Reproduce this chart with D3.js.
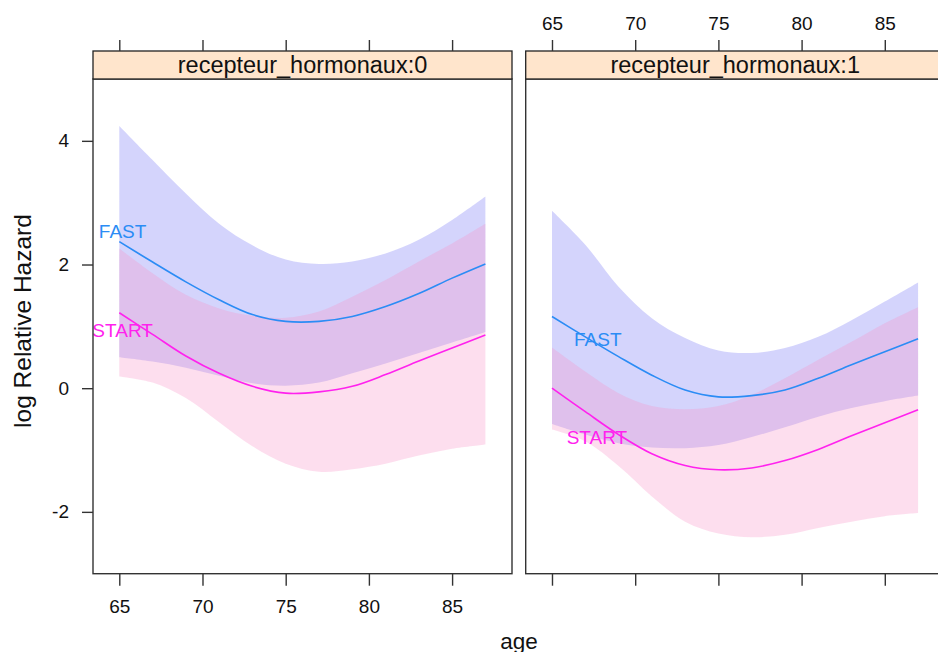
<!DOCTYPE html>
<html>
<head>
<meta charset="utf-8">
<script src="https://cdn.jsdelivr.net/npm/d3@7"></script>
<style>
  body { margin: 0; background: #fff; }
  svg { font-family: "Liberation Sans", Arial, sans-serif; }
</style>
</head>
<body>
<div id="chart"></div>
<script>
const ages = [65, 67, 69, 71, 73, 75, 77, 79, 81, 83, 85, 87];

const panels = ["recepteur_hormonaux:0", "recepteur_hormonaux:1"];
const groups = ["FAST", "START"];

// recepteur_hormonaux:0
const fast0 = [2.37, 2.04, 1.72, 1.43, 1.19, 1.08, 1.08, 1.16, 1.32, 1.53, 1.78, 2.01];
const fast0Lo = [0.50, 0.43, 0.33, 0.20, 0.08, 0.04, 0.09, 0.24, 0.40, 0.57, 0.74, 0.91];
const fast0Hi = [4.24, 3.69, 3.15, 2.66, 2.31, 2.08, 2.01, 2.05, 2.18, 2.40, 2.72, 3.10];
const start0 = [1.22, 0.87, 0.52, 0.24, 0.03, -0.08, -0.06, 0.03, 0.22, 0.44, 0.65, 0.86];
const start0Lo = [0.19, 0.09, -0.16, -0.55, -0.94, -1.22, -1.35, -1.31, -1.22, -1.09, -0.98, -0.91];
const start0Hi = [2.26, 1.86, 1.51, 1.29, 1.17, 1.14, 1.24, 1.48, 1.75, 2.05, 2.34, 2.66];

// recepteur_hormonaux:1
const fast1 = [1.16, 0.83, 0.51, 0.21, -0.03, -0.14, -0.12, -0.03, 0.16, 0.38, 0.59, 0.80];
const fast1Lo = [-0.58, -0.75, -0.89, -0.96, -0.97, -0.92, -0.79, -0.63, -0.46, -0.32, -0.21, -0.12];
const fast1Hi = [2.87, 2.32, 1.64, 1.13, 0.81, 0.61, 0.57, 0.65, 0.83, 1.10, 1.40, 1.71];
const start1 = [0.00, -0.38, -0.75, -1.06, -1.25, -1.32, -1.29, -1.17, -0.99, -0.77, -0.56, -0.35];
const start1Lo = [-0.67, -0.86, -1.26, -1.75, -2.16, -2.35, -2.41, -2.37, -2.26, -2.16, -2.07, -2.02];
const start1Hi = [0.66, 0.27, -0.08, -0.29, -0.34, -0.29, -0.11, 0.16, 0.46, 0.75, 1.05, 1.31];

const xTicks = [65, 70, 75, 80, 85];
const yTicks = [-2, 0, 2, 4];

// label anchor points (age, value) for the curve labels
const labelPos = [
  { FAST: [65.2, 2.53], START: [65.2, 0.94] },
  { FAST: [67.75, 0.79], START: [67.7, -0.79] }
];

const series = [
  { FAST: { fit: fast0, lo: fast0Lo, hi: fast0Hi }, START: { fit: start0, lo: start0Lo, hi: start0Hi } },
  { FAST: { fit: fast1, lo: fast1Lo, hi: fast1Hi }, START: { fit: start1, lo: start1Lo, hi: start1Hi } }
];

const lineCol = { FAST: "#2b8cf5", START: "#ff22ee" };
const bandCol = { FAST: "rgb(112,112,245)", START: "rgb(248,145,198)" };

const W = 938, H = 652;
const panelW = 419, gap = 13.7;
const left = 93, stripTop = 51, stripH = 28, bottom = 573.7;
const panelTop = stripTop + stripH;

// R prints a plain hyphen for negatives
const fmt = d => String(d);

const svg = d3.select("#chart").append("svg")
  .attr("width", W).attr("height", H);

const x = d3.scaleLinear().domain([63.42, 88.6]).range([0, panelW]);
const y = d3.scaleLinear().domain([-3, 5]).range([bottom, panelTop]);

panels.forEach((name, i) => {
  const x0 = left + i * (panelW + gap);
  const g = svg.append("g").attr("transform", `translate(${x0},0)`);

  g.append("clipPath").attr("id", "clip" + i)
    .append("rect").attr("x", 0).attr("y", panelTop).attr("width", panelW).attr("height", bottom - panelTop);

  const inner = g.append("g").attr("clip-path", `url(#clip${i})`);

  const area = d3.area()
    .x((d, k) => x(ages[k]))
    .y0(d => y(d.lo))
    .y1(d => y(d.hi))
    .curve(d3.curveCatmullRom.alpha(0.5));

  const line = d3.line()
    .x((d, k) => x(ages[k]))
    .y(d => y(d))
    .curve(d3.curveCatmullRom.alpha(0.5));

  groups.forEach(grp => {
    const s = series[i][grp];
    const pts = s.fit.map((f, k) => ({ lo: s.lo[k], hi: s.hi[k] }));
    inner.append("path")
      .attr("d", area(pts))
      .attr("fill", bandCol[grp])
      .attr("fill-opacity", 0.3);
  });

  groups.forEach(grp => {
    inner.append("path")
      .attr("d", line(series[i][grp].fit))
      .attr("fill", "none")
      .attr("stroke", lineCol[grp])
      .attr("stroke-width", 1.6);

    const p = labelPos[i][grp];
    inner.append("text")
      .attr("x", x(p[0])).attr("y", y(p[1]))
      .attr("text-anchor", "middle")
      .attr("dy", "0.35em")
      .attr("font-size", 19)
      .attr("fill", lineCol[grp])
      .text(grp);
  });

  // panel frame and strip
  g.append("rect")
    .attr("x", 0).attr("y", panelTop).attr("width", panelW).attr("height", bottom - panelTop)
    .attr("fill", "none").attr("stroke", "#333").attr("stroke-width", 1.4);
  g.append("rect")
    .attr("x", 0).attr("y", stripTop).attr("width", panelW).attr("height", stripH)
    .attr("fill", "#ffe5cc").attr("stroke", "#222").attr("stroke-width", 1.3);
  g.append("text")
    .attr("x", panelW / 2).attr("y", stripTop + stripH / 2)
    .attr("dy", "0.36em").attr("text-anchor", "middle")
    .attr("font-size", 23.5).attr("fill", "#111")
    .text(name);

  // x ticks: bottom labels on first panel, top labels on second
  const bot = g.append("g").attr("transform", `translate(0,${bottom})`)
    .call(d3.axisBottom(x).tickValues(xTicks).tickSize(12).tickSizeOuter(0)
      .tickFormat(i === 0 ? fmt : ""));
  const tp = g.append("g").attr("transform", `translate(0,${stripTop})`)
    .call(d3.axisTop(x).tickValues(xTicks).tickSize(11).tickSizeOuter(0)
      .tickFormat(i === 1 ? fmt : ""));
  [bot, tp].forEach(a => {
    a.select(".domain").remove();
    a.selectAll("line").attr("stroke", "#333").attr("stroke-width", 1.4);
    a.selectAll("text").attr("font-size", 19).attr("fill", "#111")
      .attr("font-family", "Liberation Sans, Arial, sans-serif");
  });
  bot.selectAll("text").attr("y", 26);
  tp.selectAll("text").attr("y", -21);

  if (i === 0) {
    const ya = g.append("g")
      .call(d3.axisLeft(y).tickValues(yTicks).tickSize(11).tickSizeOuter(0).tickFormat(fmt));
    ya.select(".domain").remove();
    ya.selectAll("line").attr("stroke", "#333").attr("stroke-width", 1.4);
    ya.selectAll("text").attr("font-size", 19).attr("fill", "#111").attr("x", -24)
      .attr("font-family", "Liberation Sans, Arial, sans-serif");
  }
});

svg.append("text")
  .attr("x", 519).attr("y", 648.5)
  .attr("text-anchor", "middle").attr("font-size", 22.5).attr("fill", "#111")
  .text("age");

svg.append("text")
  .attr("transform", "translate(30.5,321) rotate(-90)")
  .attr("text-anchor", "middle").attr("font-size", 24.5).attr("fill", "#111")
  .text("log Relative Hazard");
</script>
</body>
</html>
